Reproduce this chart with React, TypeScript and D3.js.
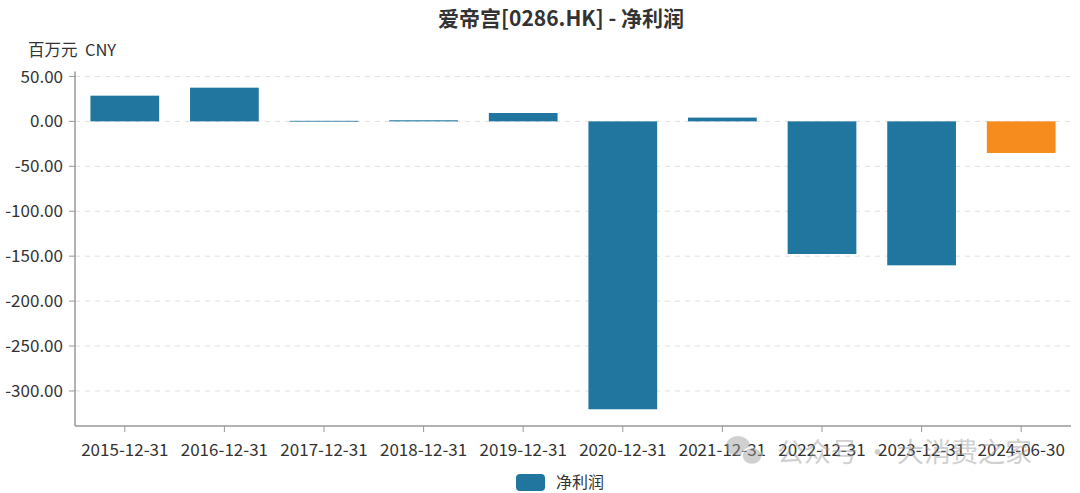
import React from "react";
import * as d3 from "d3";

const categories = ["2015-12-31","2016-12-31","2017-12-31","2018-12-31","2019-12-31","2020-12-31","2021-12-31","2022-12-31","2023-12-31","2024-06-30"];
const netProfit = [28.6, 37.5, 0.6, 1.2, 9.3, -320.4, 4.2, -147.6, -160.2, -35.2];
const barColors = ["#21769f","#21769f","#21769f","#21769f","#21769f","#21769f","#21769f","#21769f","#21769f","#f68b1e"];
const yTicks = [50, 0, -50, -100, -150, -200, -250, -300];
const title = "爱帝宫[0286.HK] - 净利润";
const unitLabel = "百万元  CNY";
const legendLabel = "净利润";

const W = 1080, H = 493;
const FONT = "'Noto Sans CJK SC', 'Noto Sans', sans-serif";

export default function App() {
  const x = d3.scaleBand<string>().domain(categories).range([75, 1071]).paddingInner(0.31).paddingOuter(0.155);
  const y = d3.scaleLinear().domain([-339, 55.5]).range([426, 71.5]);
  const left = 75, right = 1071, bottom = 426, top = 71.5;
  return (
    <svg width={W} height={H} style={{ position: "absolute", left: 0, top: 0 }} fontFamily={FONT}>
      <rect width={W} height={H} fill="#fff" />
      <text x={561} y={26} textAnchor="middle" fontSize={21} fontWeight="bold" fill="#333">{title}</text>
      <text x={28} y={56} fontSize={16.5} fill="#333" style={{ whiteSpace: "pre" }}>{unitLabel}</text>
      {yTicks.map((t) => (
        <g key={t}>
          <line x1={left} x2={right} y1={y(t)} y2={y(t)} stroke="#e0e0e0" strokeDasharray="5,5" />
          <line x1={left - 6} x2={left} y1={y(t)} y2={y(t)} stroke="#999" />
          <text x={left - 12} y={y(t)} dy="0.36em" textAnchor="end" fontSize={17} fill="#333">{t.toFixed(2)}</text>
        </g>
      ))}
      {categories.map((c, i) => {
        const v = netProfit[i];
        const y0 = y(0), y1 = y(v);
        return (
          <rect key={c} x={x(c)} width={x.bandwidth()} y={Math.min(y0, y1)} height={Math.max(Math.abs(y1 - y0), 0.8)} fill={barColors[i]} />
        );
      })}
      <line x1={left} x2={left} y1={top} y2={bottom} stroke="#999" strokeWidth={1.5} />
      <line x1={left} x2={right} y1={bottom} y2={bottom} stroke="#999" strokeWidth={1.5} />
      {categories.map((c) => {
        const cx = (x(c) as number) + x.bandwidth() / 2;
        return (
          <g key={c}>
            <line x1={cx} x2={cx} y1={bottom} y2={bottom + 6} stroke="#999" />
            <text x={cx} y={456} textAnchor="middle" fontSize={17} fill="#333">{c}</text>
          </g>
        );
      })}
      <g opacity={0.45}>
        <ellipse cx={738} cy={446} rx={12} ry={10} fill="#999" />
        <ellipse cx={752} cy={456} rx={10} ry={8.5} fill="#999" stroke="#fff" strokeWidth={1.5} />
        <text x={777} y={462} fontSize={27} fill="#999">公众号 · 大消费之家</text>
      </g>
      <rect x={516} y={474} width={29} height={17} rx={4} fill="#21769f" />
      <text x={556} y={488} fontSize={16} fill="#333">{legendLabel}</text>
    </svg>
  );
}
